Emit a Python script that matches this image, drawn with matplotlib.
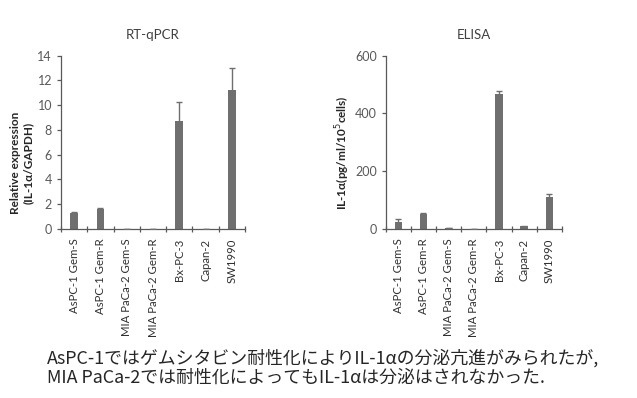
"""IL-1a expression (RT-qPCR) and secretion (ELISA) in pancreatic cancer cell lines."""

import matplotlib

matplotlib.use("Agg")
import matplotlib.pyplot as plt
import numpy as np

plt.rcParams["font.family"] = ["Lato", "Noto Sans CJK JP", "DejaVu Sans"]

cell_lines = [
    "AsPC-1 Gem-S",
    "AsPC-1 Gem-R",
    "MIA PaCa-2 Gem-S",
    "MIA PaCa-2 Gem-R",
    "Bx-PC-3",
    "Capan-2",
    "SW1990",
]

qpcr_mean = [1.3, 1.6, 0.0, 0.0, 8.7, 0.0, 11.2]
qpcr_err = [0.05, 0.12, 0.0, 0.0, 1.55, 0.0, 1.8]

elisa_mean = [25, 52, 3, 1, 467, 10, 110]
elisa_err = [8, 3, 1, 0.5, 12, 2, 12]

bar_color = "#6f6f6f"
axis_color = "#595959"
text_color = "#595959"


def draw_panel(ax, values, errors, title, ylabel, ymax, yticks):
    x = np.arange(len(cell_lines))
    ax.bar(x, values, width=0.3, color=bar_color, zorder=2)
    ax.errorbar(x, values, yerr=errors, fmt="none", ecolor=bar_color,
                elinewidth=1.0, capsize=2.5, capthick=1.0, zorder=3)
    ax.set_xlim(-0.5, len(cell_lines) - 0.5)
    ax.set_ylim(0, ymax)
    ax.set_yticks(yticks)
    ax.set_xticks(x)
    ax.set_xticklabels(cell_lines, rotation=90, fontsize=8.2, color="#303030")
    ax.set_xticks(np.arange(len(cell_lines) + 1) - 0.5, minor=True)
    ax.tick_params(axis="x", which="major", length=0, pad=7)
    ax.tick_params(axis="x", which="minor", length=4, direction="inout",
                   color=axis_color, width=0.9)
    ax.tick_params(axis="y", length=3, color=axis_color, width=0.9,
                   labelsize=9, labelcolor=text_color)
    for side in ("top", "right"):
        ax.spines[side].set_visible(False)
    for side in ("left", "bottom"):
        ax.spines[side].set_color(axis_color)
        ax.spines[side].set_linewidth(0.9)
    ax.set_title(title, fontsize=9.5, color="#404040", pad=12)
    ax.set_ylabel(ylabel, fontsize=8.5, fontweight="bold", color="#262626")


fig = plt.figure(figsize=(6.37, 3.98), dpi=100)

ax_l = fig.add_axes([0.0958, 0.4246, 0.2888, 0.4354])
draw_panel(ax_l, qpcr_mean, qpcr_err, "RT-qPCR",
           "Relative expression\n(IL-1α/GAPDH)", 14, range(0, 15, 2))
ax_l.yaxis.set_label_coords(-0.15, 0.38)

ax_r = fig.add_axes([0.6055, 0.4246, 0.2768, 0.4354])
draw_panel(ax_r, elisa_mean, elisa_err, "ELISA",
           "IL-1α(pg/ml/10$^{5}$cells)", 600, [0, 200, 400, 600])
ax_r.yaxis.set_label_coords(-0.19, 0.44)

summary = ("AsPC-1ではゲムシタビン耐性化によりIL-1αの分泌亢進がみられたが,\n"
           "MIA PaCa-2では耐性化によってもIL-1αは分泌はされなかった.")
fig.text(0.073, 0.028, summary, fontsize=12.9, color="#262626",
         family=["Noto Sans CJK JP", "DejaVu Sans"], linespacing=1.1,
         va="bottom", ha="left")

fig.savefig("out.png", dpi=100, facecolor="white")
